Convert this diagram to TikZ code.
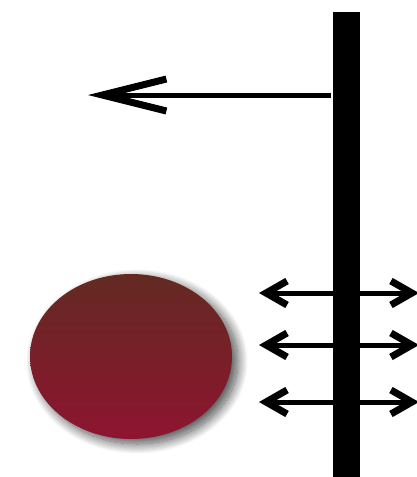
\documentclass[tikz,border=0pt]{standalone}
\usetikzlibrary{arrows.meta,shapes.geometric,shadows.blur}
\definecolor{ovaltop}{RGB}{99,42,34}
\definecolor{ovalbot}{RGB}{142,20,48}
\begin{document}
\begin{tikzpicture}[x=1pt,y=-1pt,
  barstyle/.style={draw=none,fill=black,minimum width=27pt,minimum height=465pt,inner sep=0pt},
  ovalstyle/.style={ellipse,draw=none,minimum width=202pt,minimum height=165pt,inner sep=0pt,
     top color=ovaltop,bottom color=ovalbot,
     blur shadow={shadow xshift=6pt,shadow yshift=-5pt,shadow blur radius=10pt,shadow opacity=70,shadow blur steps=20}},
  bigarrow/.style={line width=5pt,-{Straight Barb[length=64pt,width=32pt,line width=7pt]}},
  dblarrow/.style={line width=5pt,{Straight Barb[length=21pt,width=24pt,line width=7pt]}-{Straight Barb[length=21pt,width=24pt,line width=7pt]}}
]
\useasboundingbox (0,0) rectangle (417,477);
\node[barstyle] (bar) at (346.5,244.5) {};
\node[ovalstyle] (oval) at (131,356.5) {};
\coordinate (tipA) at (88,95);
\coordinate (startA) at (331,95);
\draw[bigarrow] (startA) -- (tipA);
\coordinate (l1) at (259,293);
\coordinate (r1) at (419,293);
\coordinate (l2) at (259,345);
\coordinate (r2) at (419,345);
\coordinate (l3) at (259,402);
\coordinate (r3) at (419,402);
\draw[dblarrow] (l1) -- (r1);
\draw[dblarrow] (l2) -- (r2);
\draw[dblarrow] (l3) -- (r3);
\end{tikzpicture}
\end{document}
